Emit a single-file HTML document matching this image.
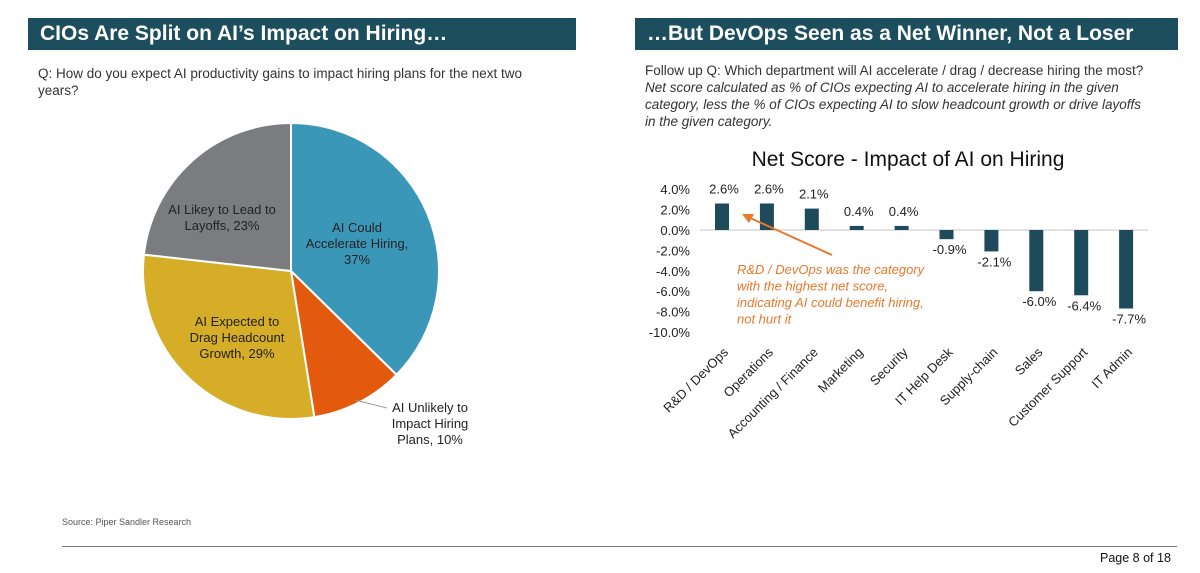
<!DOCTYPE html>
<html><head><meta charset="utf-8"><style>
body{margin:0;width:1200px;height:573px;background:#fff;font-family:"Liberation Sans",Arial,sans-serif;position:relative;overflow:hidden}
.hdr{position:absolute;top:18px;height:32px;background:#1d4e5e;color:#fff;font-weight:bold;font-size:21px;line-height:32px;padding-left:12px;box-sizing:border-box}
.t{position:absolute;color:#333;font-size:13.5px;line-height:17px}
</style></head><body>
<div class="hdr" style="left:28px;width:548px">CIOs Are Split on AI’s Impact on Hiring…</div>
<div class="hdr" style="left:635px;width:543px">…But DevOps Seen as a Net Winner, Not a Loser</div>
<div class="t" style="left:38px;top:65px;width:520px">Q: How do you expect AI productivity gains to impact hiring plans for the next two years?</div>
<div class="t" style="left:645px;top:62px;width:530px">Follow up Q: Which department will AI accelerate / drag / decrease hiring the most?<br><i>Net score calculated as % of CIOs expecting AI to accelerate hiring in the given<br>category, less the % of CIOs expecting AI to slow headcount growth or drive layoffs<br>in the given category.</i></div>
<div class="t" style="left:62px;top:514px;font-size:9px;color:#555">Source: Piper Sandler Research</div>
<div style="position:absolute;left:62px;top:546px;width:1115px;height:1px;background:#777"></div>
<div class="t" style="left:1100px;top:550px;font-size:12.5px;color:#111">Page 8 of 18</div>
<svg width="1200" height="573" style="position:absolute;left:0;top:0" font-family="Liberation Sans, Arial, sans-serif">
<g id="pie"></g><g id="bars"></g>
</svg>
<script>
const pieLabels=["AI Could Accelerate Hiring, 37%","AI Unlikely to Impact Hiring Plans, 10%","AI Expected to Drag Headcount Growth, 29%","AI Likey to Lead to Layoffs, 23%"];
const pieValues=[37,10,29,23];
const pieColors=["#3b97b8","#e35a0e","#d6ad26","#7b7c80"];
const categories=["R&D / DevOps","Operations","Accounting / Finance","Marketing","Security","IT Help Desk","Supply-chain","Sales","Customer Support","IT Admin"];
const netScores=[2.6,2.6,2.1,0.4,0.4,-0.9,-2.1,-6.0,-6.4,-7.7];
const yTicks=[4,2,0,-2,-4,-6,-8,-10];
const NS="http://www.w3.org/2000/svg";
function mk(t,a,p){const e=document.createElementNS(NS,t);for(const k in a)e.setAttribute(k,a[k]);p.appendChild(e);return e;}
const pie=document.getElementById('pie');
const cx=291,cy=271,R=148;const tot=pieValues.reduce((a,b)=>a+b,0);
let ang=-Math.PI/2;
const labelLines=[["AI Could","Accelerate Hiring,","37%"],["AI Unlikely to","Impact Hiring","Plans, 10%"],["AI Expected to","Drag Headcount","Growth, 29%"],["AI Likey to Lead to","Layoffs, 23%"]];
const labelPos=[[357,232],[430,412],[237,326],[222,214]];
pieValues.forEach((v,i)=>{
 const a2=ang+v/tot*2*Math.PI;
 const x1=cx+R*Math.cos(ang),y1=cy+R*Math.sin(ang),x2=cx+R*Math.cos(a2),y2=cy+R*Math.sin(a2);
 const p=mk('path',{d:`M${cx},${cy}L${x1},${y1}A${R},${R} 0 ${a2-ang>Math.PI?1:0} 1 ${x2},${y2}Z`,fill:pieColors[i],stroke:'#fff','stroke-width':2},pie);
 
 
 const t=mk('text',{x:labelPos[i][0],y:labelPos[i][1],'text-anchor':'middle','font-size':13,fill:'#222'},pie);
 
 
 labelLines[i].forEach((s,j)=>{const ts=mk('tspan',{x:labelPos[i][0],dy:j?16:0},t);ts.textContent=s;});
 ang=a2;
});
mk('line',{x1:355,y1:400,x2:387,y2:408,stroke:'#999','stroke-width':1},pie);
const g=document.getElementById('bars');
const y0=230,ppu=10.2,x0=722,step=44.9,bw=14;
const Y=v=>y0-v*ppu,X=i=>x0+i*step;
const title=mk('text',{x:908,y:166,'text-anchor':'middle','font-size':21,fill:'#111'},g);title.textContent="Net Score - Impact of AI on Hiring";


yTicks.forEach(v=>{const t=mk('text',{x:690,y:Y(v)+5,'text-anchor':'end','font-size':13,fill:'#222'},g);t.textContent=v.toFixed(1)+"%";
 
 });
mk('line',{x1:700,y1:y0,x2:1148,y2:y0,stroke:'#d8d8d8','stroke-width':1.5},g);
categories.forEach((c,i)=>{
 const v=netScores[i];
 const r=mk('rect',{x:X(i)-bw/2,y:Math.min(Y(v),y0),width:bw,height:Math.abs(Y(v)-y0),fill:'#1e4b5c'},g);
 
 
 const ly=v>=0?Y(v)-10:Y(v)+15;
 const t=mk('text',{x:X(i)+(v>=0?2:3),y:ly,'text-anchor':'middle','font-size':13,fill:'#222'},g);t.textContent=v.toFixed(1)+"%";
 
 
 const cl=mk('text',{x:X(i)+7,y:353,'text-anchor':'end','font-size':13,fill:'#222',transform:`rotate(-45 ${X(i)+7} 353)`},g);cl.textContent=c;
 
 
});
mk('line',{x1:832,y1:255,x2:748,y2:217,stroke:'#e8782a','stroke-width':2},g);
mk('path',{d:'M742,214 L754,214 L749,223 Z',fill:'#e8782a'},g);
const ann=mk('text',{x:737,y:274,'font-size':13,'font-style':'italic',fill:'#e8782a'},g);


["R&D / DevOps was the category","with the highest net score,","indicating AI could benefit hiring,","not hurt it"].forEach((s,j)=>{const ts=mk('tspan',{x:737,dy:j?16.5:0},ann);ts.textContent=s;});
</script>
</body></html>
